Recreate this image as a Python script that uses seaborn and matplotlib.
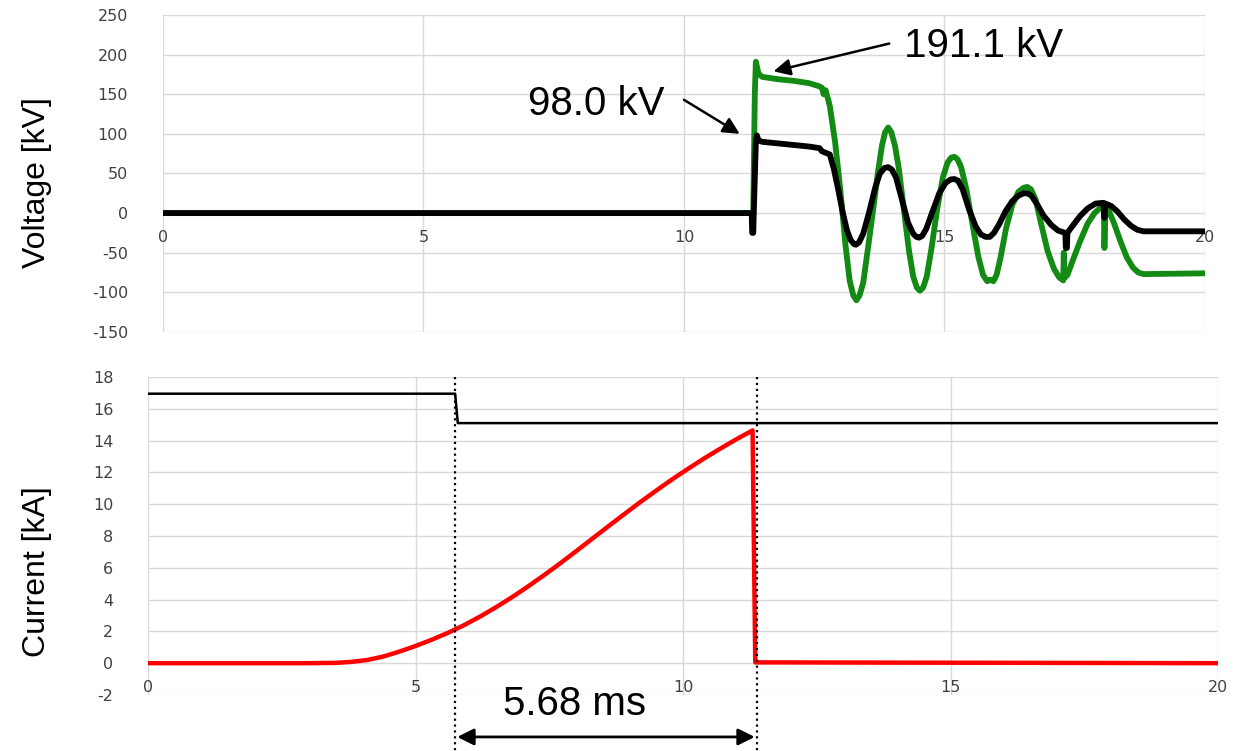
import matplotlib.pyplot as plt
import seaborn as sns

# Voltage traces, top panel (time in ms, voltage in kV)
t_green = [0, 11.30, 11.33, 11.36, 11.38, 11.40, 11.43, 11.5, 11.8, 12.1, 12.4, 12.6, 12.65,
           12.68, 12.72, 12.8, 12.9, 13.0, 13.1, 13.18, 13.25, 13.31, 13.37, 13.44, 13.52,
           13.62, 13.72, 13.8, 13.86, 13.92, 13.98, 14.05, 14.12, 14.22, 14.32, 14.4,
           14.47, 14.53, 14.59, 14.66, 14.75, 14.86, 14.97, 15.06, 15.13, 15.19, 15.25,
           15.32, 15.42, 15.54, 15.65, 15.74, 15.82, 15.88, 15.94, 16.0, 16.08, 16.18,
           16.3, 16.42, 16.52, 16.59, 16.66, 16.75, 16.85, 16.98, 17.1, 17.2, 17.28,
           17.29, 17.30, 17.36, 17.45, 17.6, 17.75, 17.88, 17.98, 18.06, 18.07, 18.09,
           18.16, 18.25, 18.38, 18.5, 18.62, 18.72, 18.82, 20.0]
v_green = [0, 0, 0, 150, 191, 185, 176, 172, 169, 167, 164, 160, 158,
           150, 155, 135, 90, 30, -40, -85, -104, -110, -104, -88, -50,
           -1, 50, 85, 102, 108, 102, 85, 58, 5, -48, -80,
           -94, -98, -94, -80, -45, 5, 45, 64, 70, 71, 68,
           58, 30, -15, -55, -78, -86, -84, -86, -78, -55, -20,
           10, 27, 32, 33, 30, 17, -12, -48, -70, -81, -85,
           -50, -82, -78, -62, -36, -13, 0, 6, 8, -44, 6,
           2, -12, -36, -56, -69, -75, -77, -76]

t_black = [0, 11.30, 11.31, 11.33, 11.34, 11.38, 11.40, 11.43, 11.5, 11.8, 12.1, 12.4, 12.6,
           12.65, 12.8, 12.88, 12.96, 13.05, 13.13, 13.2, 13.26, 13.3, 13.36, 13.44, 13.55,
           13.67, 13.76, 13.85, 13.92, 13.99, 14.07, 14.18, 14.3, 14.4, 14.46, 14.51,
           14.57, 14.65, 14.76, 14.9, 15.02, 15.12, 15.19, 15.26, 15.35, 15.47, 15.6,
           15.7, 15.79, 15.87, 15.95, 16.05, 16.17, 16.3, 16.42, 16.52, 16.59, 16.67,
           16.77, 16.9, 17.05, 17.18, 17.32, 17.33, 17.35, 17.36, 17.45, 17.6, 17.75,
           17.9, 18.05, 18.07, 18.09, 18.2, 18.32, 18.45, 18.58, 18.7, 18.82, 20.0]
v_black = [0, 0, -25, -25, 0, 90, 98, 92, 90, 88, 86, 84, 82,
           78, 74, 55, 30, 0, -22, -34, -39, -40, -37, -26, 0,
           32, 50, 57, 58, 55, 45, 18, -12, -26, -30, -31,
           -29, -20, 0, 25, 38, 42.5, 43, 41, 30, 5, -17,
           -27, -30, -30, -25, -14, 2, 15, 22, 25, 25, 22,
           12, -3, -15, -22, -25, -44, -44, -25, -17, -4, 6,
           12, 13, -6, 12, 9, 2, -8, -16, -21, -23, -23]

# Current traces, bottom panel (time in ms, current in kA)
t_total = [0, 5.74, 5.79, 20.0]
i_total = [16.95, 16.95, 15.1, 15.1]

t_red = [0, 3.0, 3.5, 3.8, 4.1, 4.4, 4.7, 5.0, 5.3, 5.6, 5.9, 6.2, 6.5, 6.8, 7.1, 7.4,
         7.7, 8.0, 8.3, 8.6, 8.9, 9.2, 9.5, 9.8, 10.1, 10.4, 10.7, 11.0, 11.3, 11.35, 20.0]
i_red = [0, 0, 0.02, 0.08, 0.2, 0.42, 0.73, 1.08, 1.47, 1.9, 2.38, 2.92, 3.51, 4.14, 4.82, 5.53,
         6.27, 7.04, 7.82, 8.6, 9.37, 10.13, 10.86, 11.57, 12.24, 12.89, 13.5, 14.09, 14.64,
         0.05, 0]

t_ticks = [0, 5, 10, 15, 20]
v_ticks = [-150, -100, -50, 0, 50, 100, 150, 200, 250]
i_ticks = [-2, 0, 2, 4, 6, 8, 10, 12, 14, 16, 18]

marker_ms = [5.74, 11.38]

sns.set_style('whitegrid')
plt.rcParams['font.family'] = ['DejaVu Sans']
plt.rcParams['axes.unicode_minus'] = False
narrow = ['Liberation Sans Narrow', 'Liberation Sans', 'DejaVu Sans']

fig = plt.figure(figsize=(12.43, 7.51), dpi=100)
ax1 = fig.add_axes([0.1311, 0.558, 0.8383, 0.422])
ax2 = fig.add_axes([0.1191, 0.0746, 0.8608, 0.4234])

sns.lineplot(x=t_green, y=v_green, ax=ax1, color='#138a13', lw=4.2, estimator=None, sort=False)
sns.lineplot(x=t_black, y=v_black, ax=ax1, color='black', lw=4.2, estimator=None, sort=False)
sns.lineplot(x=t_total, y=i_total, ax=ax2, color='black', lw=1.8, estimator=None, sort=False)
sns.lineplot(x=t_red, y=i_red, ax=ax2, color='#ff0000', lw=3.2, estimator=None, sort=False)


def style(ax, yticks):
    ax.set_xlim(0, 20)
    ax.set_ylim(yticks[0], yticks[-1])
    ax.set_xticks(t_ticks)
    ax.set_yticks(yticks)
    for s in ax.spines.values():
        s.set_visible(False)
    ax.spines['bottom'].set_position(('data', 0))
    ax.tick_params(length=0, labelsize=11.5, labelcolor='#404040')
    ax.tick_params(axis='y', pad=25)
    ax.tick_params(axis='x', pad=12)
    ax.grid(color='#d9d9d9', lw=1)
    ax.set_xlabel('')
    ax.set_ylabel('')


style(ax1, v_ticks)
style(ax2, i_ticks)

fig.text(37 / 1243, 1 - 183 / 751, 'Voltage [kV]', rotation=90, ha='center', va='center',
         fontsize=23, family=narrow, color='black')
fig.text(37 / 1243, 1 - 572 / 751, 'Current [kA]', rotation=90, ha='center', va='center',
         fontsize=23, family=narrow, color='black')

# peak labels
ax1.text(14.23, 216, '191.1 kV', fontsize=29, family=narrow, color='black',
         ha='left', va='center_baseline')
ax1.annotate('', xy=(11.72, 179), xytext=(13.94, 214), annotation_clip=False,
             arrowprops=dict(arrowstyle='-|>', color='black', lw=1.8, mutation_scale=25,
                             shrinkA=0, shrinkB=0))
ax1.text(9.62, 143, '98.0 kV', fontsize=29, family=narrow, color='black',
         ha='right', va='center_baseline')
ax1.annotate('', xy=(11.07, 100), xytext=(10.0, 143), annotation_clip=False,
             arrowprops=dict(arrowstyle='-|>', color='black', lw=1.8, mutation_scale=25,
                             shrinkA=0, shrinkB=0))

# interval marker
xt = ax2.get_xaxis_transform()
for m in marker_ms:
    ax2.plot([m, m], [1, -0.18], transform=xt, ls=':', color='black', lw=1.6, clip_on=False)
ax2.annotate('', xy=(marker_ms[1] - 0.04, -0.132), xytext=(marker_ms[0] + 0.04, -0.132),
             xycoords=xt, annotation_clip=False,
             arrowprops=dict(arrowstyle='<|-|>', color='black', lw=2, mutation_scale=25,
                             shrinkA=0, shrinkB=0))
ax2.text(7.98, -0.016, '5.68 ms', transform=xt, ha='center', va='center_baseline',
         fontsize=29, family=narrow, color='black')

fig.savefig('out.png', dpi=100)
